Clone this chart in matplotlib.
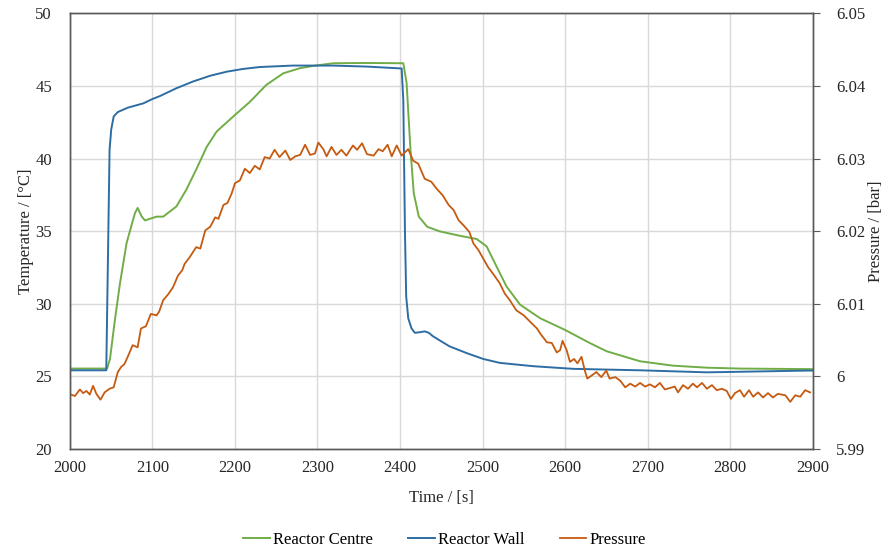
import matplotlib
matplotlib.use("Agg")
import matplotlib.pyplot as plt

plt.rcParams['font.family'] = ['Liberation Serif', 'DejaVu Serif']

# ---- data ----
centre_t = [2000, 2045, 2048.5, 2054.5, 2060.6, 2068.7, 2078.8, 2082, 2087, 2091, 2105, 2113,
            2129, 2141, 2153.5, 2165.7, 2177.8, 2198, 2218, 2238, 2258.6, 2278.8, 2295, 2319,
            2360, 2404, 2408, 2412.7, 2416.7, 2422.8, 2433, 2448.5, 2472.7, 2492.9, 2505, 2517,
            2529, 2545.5, 2570, 2600, 2630, 2650.5, 2691, 2731, 2772, 2812, 2900]
centre_T = [25.54, 25.54, 26.2, 28.9, 31.4, 34.2, 36.25, 36.6, 36.0, 35.74, 36.0, 36.0,
            36.7, 37.85, 39.3, 40.8, 41.86, 42.9, 43.9, 45.07, 45.87, 46.22, 46.38, 46.56,
            46.58, 46.56, 45.2, 40.6, 37.6, 36.0, 35.3, 34.98, 34.68, 34.46, 33.95, 32.57,
            31.2, 29.94, 29.0, 28.2, 27.3, 26.73, 26.04, 25.74, 25.6, 25.54, 25.5]

wall_t = [2000, 2044, 2046, 2048, 2050, 2053, 2058, 2070, 2089, 2100, 2109, 2129, 2149, 2170,
          2190, 2210, 2230, 2270, 2319, 2360, 2402, 2404, 2406, 2407.5, 2410, 2414, 2418, 2425,
          2430, 2435, 2440, 2460, 2481, 2501, 2521, 2562, 2594, 2610, 2691, 2772, 2893, 2900]
wall_T = [25.42, 25.42, 33.0, 40.6, 42.0, 42.9, 43.2, 43.5, 43.8, 44.1, 44.3, 44.84, 45.3, 45.7,
          45.98, 46.17, 46.3, 46.4, 46.4, 46.33, 46.2, 44.0, 35.0, 30.5, 29.0, 28.3, 28.0, 28.05,
          28.1, 28.0, 27.76, 27.07, 26.6, 26.2, 25.93, 25.7, 25.58, 25.52, 25.42, 25.28, 25.4, 25.4]

press_t = [2001, 2006, 2012, 2016, 2020, 2024, 2028, 2032, 2037, 2042, 2048, 2053, 2058, 2062,
           2066, 2070, 2076, 2082, 2086, 2092, 2098, 2105, 2108, 2113, 2119, 2125, 2131, 2136,
           2139, 2145, 2149, 2153, 2158, 2164, 2170, 2176, 2180, 2186, 2191, 2196, 2200, 2206,
           2212, 2218, 2224, 2230, 2236, 2242, 2248, 2254, 2261, 2267, 2273, 2279, 2285, 2291,
           2297, 2301, 2307, 2311, 2317, 2323, 2329, 2335, 2343, 2348, 2354, 2360, 2368, 2374,
           2379, 2385, 2390, 2396, 2402, 2410, 2416, 2422, 2428, 2430, 2438, 2444, 2452, 2459,
           2465, 2471, 2477, 2484, 2489, 2495, 2501, 2507, 2513, 2521, 2527, 2533, 2541, 2550,
           2558, 2566, 2570, 2578, 2584, 2590, 2594, 2597, 2602, 2606, 2611, 2615, 2620, 2624,
           2627, 2632, 2638, 2644, 2650, 2654, 2661, 2667, 2673, 2679, 2685, 2691, 2697, 2703,
           2709, 2715, 2721, 2727, 2733, 2737, 2743, 2749, 2755, 2760, 2766, 2772, 2778, 2784,
           2790, 2796, 2801, 2806, 2812, 2817, 2823, 2828, 2834, 2840, 2846, 2852, 2858, 2867,
           2873, 2879, 2885, 2891, 2897]
press_P = [5.9975, 5.9973, 5.9982, 5.9977, 5.9980, 5.9975, 5.9987, 5.9976, 5.9968, 5.9978,
           5.9983, 5.9985, 6.0006, 6.0013, 6.0017, 6.0027, 6.0043, 6.0040, 6.0066, 6.0069,
           6.0086, 6.0084, 6.0089, 6.0105, 6.0113, 6.0123, 6.0139, 6.0146, 6.0155, 6.0164,
           6.0171, 6.0178, 6.0176, 6.0201, 6.0206, 6.0219, 6.0217, 6.0236, 6.0239, 6.0252,
           6.0266, 6.0270, 6.0286, 6.0280, 6.0290, 6.0285, 6.0302, 6.0300, 6.0312, 6.0302,
           6.0311, 6.0298, 6.0303, 6.0305, 6.0319, 6.0305, 6.0307, 6.0322, 6.0313, 6.0303,
           6.0316, 6.0305, 6.0312, 6.0304, 6.0318, 6.0312, 6.0321, 6.0306, 6.0304, 6.0313,
           6.0310, 6.0319, 6.0303, 6.0318, 6.0304, 6.0313, 6.0297, 6.0293, 6.0277, 6.0272,
           6.0268, 6.0259, 6.0249, 6.0236, 6.0229, 6.0215, 6.0208, 6.0199, 6.0183, 6.0174,
           6.0162, 6.0150, 6.0141, 6.0128, 6.0114, 6.0105, 6.0091, 6.0084, 6.0075, 6.0066,
           6.0059, 6.0047, 6.0046, 6.0033, 6.0036, 6.0049, 6.0036, 6.0020, 6.0024, 6.0018,
           6.0027, 6.0008, 5.9997, 6.0001, 6.0006, 5.9999, 6.0008, 5.9997, 5.9999, 5.9994,
           5.9985, 5.9990, 5.9986, 5.9991, 5.9986, 5.9989, 5.9985, 5.9991, 5.9982, 5.9984,
           5.9986, 5.9978, 5.9988, 5.9983, 5.9990, 5.9985, 5.9991, 5.9983, 5.9988, 5.9981,
           5.9983, 5.9980, 5.9969, 5.9977, 5.9981, 5.9972, 5.9981, 5.9972, 5.9978, 5.9971,
           5.9977, 5.9971, 5.9976, 5.9974, 5.9965, 5.9974, 5.9972, 5.9981, 5.9978]

x_ticks = list(range(2000, 2901, 100))
t_ticks = [20, 25, 30, 35, 40, 45, 50]
p_ticks = [5.99, 6.00, 6.01, 6.02, 6.03, 6.04, 6.05]
p_labels = ['5.99', '6', '6.01', '6.02', '6.03', '6.04', '6.05']

green = '#70AD47'
blue = '#2E6DA4'
brown = '#C55A11'
spine_c = '#595959'
text_c = '#262626'

fig = plt.figure(figsize=(8.89, 5.49), dpi=100)
ax = fig.add_axes([0.0787, 0.1821, 0.8353, 0.7937])
ax2 = ax.twinx()

l1, = ax.plot(centre_t, centre_T, color=green, lw=1.4, label='Reactor Centre')
l2, = ax.plot(wall_t, wall_T, color=blue, lw=1.4, label='Reactor Wall')
l3, = ax2.plot(press_t, press_P, color=brown, lw=1.3, label='Pressure')

ax.set_xlim(2000, 2900)
ax.set_ylim(20, 50)
ax2.set_ylim(5.99, 6.05)
ax.set_xticks(x_ticks)
ax.set_yticks(t_ticks)
ax2.set_yticks(p_ticks)
ax2.set_yticklabels(p_labels)

ax.grid(True, color='#D9D9D9', lw=1.0)
ax.set_axisbelow(True)

for a in (ax, ax2):
    for s in a.spines.values():
        s.set_color(spine_c)
        s.set_linewidth(1.0)

ax.tick_params(axis='x', length=0, labelsize=12, colors=text_c, pad=8)
ax.tick_params(axis='y', length=0, labelsize=12, colors=text_c, pad=13)
ax2.tick_params(axis='y', length=5, direction='out', color=spine_c, labelsize=12,
                labelcolor=text_c, pad=12)

ax.set_xlabel('Time / [s]', fontsize=12, color=text_c, labelpad=10)
ax.set_ylabel('Temperature / [°C]', fontsize=12, color=text_c, labelpad=1)
ax2.set_ylabel('Pressure / [bar]', fontsize=12, color=text_c, labelpad=2)

fig.legend(handles=[l1, l2, l3], loc='lower center', bbox_to_anchor=(0.5, -0.025),
           ncol=3, frameon=False, fontsize=12, handlelength=1.6, handletextpad=0.2,
           columnspacing=2.1)

fig.savefig('out.png', dpi=100)
